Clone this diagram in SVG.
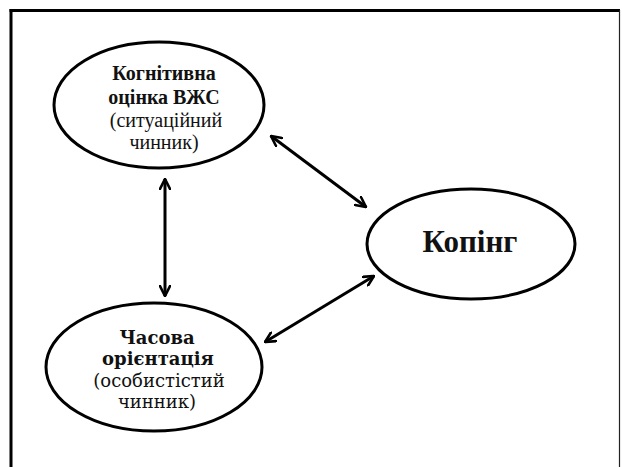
<svg xmlns="http://www.w3.org/2000/svg" width="622" height="467" viewBox="0 0 622 467">
<style>
.node ellipse{fill:#fff;stroke:#000;stroke-width:3}
.node text{fill:#111;text-anchor:middle}
.b{font-weight:bold}
.conn line{stroke:#000;stroke-width:3;marker-start:url(#ah);marker-end:url(#ah)}
</style>
<defs>
<marker id="ah" viewBox="0 0 12 12" refX="11" refY="6" markerWidth="12" markerHeight="12" markerUnits="userSpaceOnUse" orient="auto-start-reverse">
<path d="M1,1 L11,6 L1,11" fill="none" stroke="#000" stroke-width="2.6" stroke-linecap="round" stroke-linejoin="miter"/>
</marker>
</defs>
<rect width="622" height="467" fill="#fff"/>
<g id="frame">
<line x1="11" y1="9" x2="11" y2="467" stroke="#000" stroke-width="3"/>
<line x1="9.5" y1="10.5" x2="620" y2="10.5" stroke="#000" stroke-width="3"/>
<line x1="619.5" y1="10" x2="619.5" y2="467" stroke="#222" stroke-width="1.2"/>
</g>
<g class="conn" id="connectors">
<line x1="165" y1="179" x2="165" y2="296"/>
<line x1="271" y1="136" x2="366" y2="207"/>
<line x1="374" y1="276" x2="265" y2="342"/>
</g>
<g class="node" id="node-cognitive" font-family="'Liberation Serif', serif">
<ellipse cx="159" cy="105" rx="105" ry="63"/>
<text x="164" y="80" class="b" font-size="20">Когнітивна</text>
<text x="164" y="104" class="b" font-size="20">оцінка ВЖС</text>
<text x="166" y="127" font-size="20">(ситуаційний</text>
<text x="164" y="149" font-size="20">чинник)</text>
</g>
<g class="node" id="node-time" font-family="'DejaVu Serif', serif">
<ellipse cx="154" cy="367" rx="108" ry="64"/>
<text x="157" y="344" class="b" font-size="18">Часова</text>
<text x="158" y="365" class="b" font-size="18">орієнтація</text>
<text x="159" y="387" font-size="18">(особистістий</text>
<text x="157" y="408" font-size="18">чинник)</text>
</g>
<g class="node" id="node-coping" font-family="'Liberation Serif', serif">
<ellipse cx="471" cy="244" rx="104" ry="55"/>
<text x="470" y="252" class="b" font-size="31">Копінг</text>
</g>
</svg>
